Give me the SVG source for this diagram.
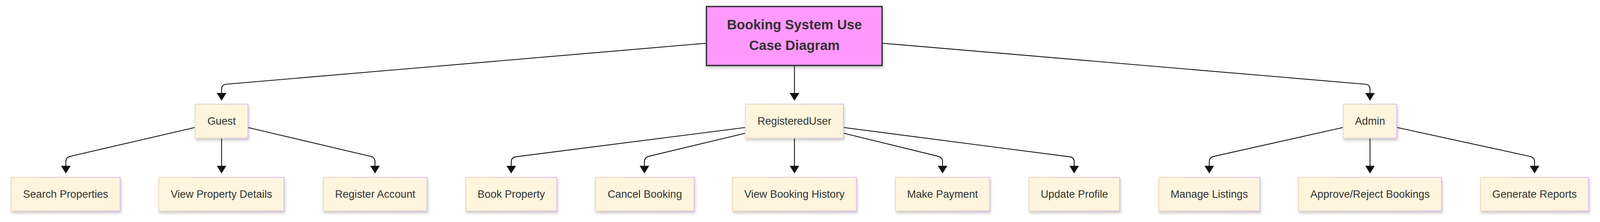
<svg xmlns="http://www.w3.org/2000/svg" width="4181" height="568" viewBox="0 0 4181 568" style="overflow:hidden">
<style>
.node rect.box{fill:#fff4dd;stroke:url(#bord);stroke-width:2;filter:url(#shadow)}
.node text{font-family:"Liberation Sans",Arial,sans-serif;font-size:27.8px;fill:#333;text-anchor:middle}
.title rect{fill:#ff99ff;stroke:#333;stroke-width:3.5;filter:url(#shadow)}
.title text{font-family:"Liberation Sans",Arial,sans-serif;font-size:35.5px;font-weight:bold;fill:#333;text-anchor:middle}
.edges path{fill:none;stroke:#111;stroke-width:2.2;marker-end:url(#arrow)}
</style>
<defs>
<linearGradient id="bord" x1="0" y1="0" x2="1" y2="0">
<stop offset="0" stop-color="#ecd8b4"/>
<stop offset="1" stop-color="#dcb6ee"/>
</linearGradient>
<filter id="shadow" x="-5%" y="-10%" width="115%" height="125%">
<feDropShadow dx="2" dy="5" stdDeviation="3.5" flood-color="#000" flood-opacity="0.2"/>
</filter>
<marker id="arrow" viewBox="0 0 20 25" refX="12" refY="12.5" markerWidth="20" markerHeight="25" markerUnits="userSpaceOnUse" orient="auto">
<path d="M0,0 L20,12.5 L0,25 z" fill="#111"/>
</marker>
</defs>
<rect width="4181" height="568" fill="#fff"/>
<g id="diagram" transform="scale(0.97967)">
<g class="edges" id="connectors">
<path d="M1844,113 L591,220 Q579,221 579,233 L579,255"/>
<path d="M2076,173 L2076,255"/>
<path d="M2307,113 L3568,220 Q3580,221 3580,233 L3580,255"/>
<path d="M509,333 L183.7,408.3 Q172,411 172,423 L172,445"/>
<path d="M579,362 L579,445"/>
<path d="M648,333 L968.3,408.3 Q980,411 980,423 L980,445"/>
<path d="M1947,333 L1347.9,409.5 Q1336,411 1336,423 L1336,445"/>
<path d="M1947,348 L1695.7,408.2 Q1684,411 1684,423 L1684,445"/>
<path d="M2076,362 L2076,445"/>
<path d="M2205,348 L2451.3,408.2 Q2463,411 2463,423 L2463,445"/>
<path d="M2205,333 L2795.1,409.5 Q2807,411 2807,423 L2807,445"/>
<path d="M3509,333 L3171.7,408.4 Q3160,411 3160,423 L3160,445"/>
<path d="M3580,362 L3580,445"/>
<path d="M3651,333 L3998.3,408.5 Q4010,411 4010,423 L4010,445"/>
</g>
<g class="title" id="node-title">
<rect x="1846" y="17" width="459" height="154"/>
<text x="2076" y="77">Booking System Use</text>
<text x="2076" y="131">Case Diagram</text>
</g>
<g class="node" id="node-guest"><rect class="box" x="510" y="272" width="138" height="89"/><text x="579" y="326">Guest</text></g>
<g class="node" id="node-registereduser"><rect class="box" x="1948" y="272" width="256" height="89"/><text x="2076" y="326">RegisteredUser</text></g>
<g class="node" id="node-admin"><rect class="box" x="3510" y="272" width="140" height="89"/><text x="3580" y="326">Admin</text></g>
<g class="node" id="node-search"><rect class="box" x="29" y="463" width="285" height="88"/><text x="171.5" y="516.5">Search Properties</text></g>
<g class="node" id="node-viewdetails"><rect class="box" x="415" y="463" width="327" height="88"/><text x="578.5" y="516.5">View Property Details</text></g>
<g class="node" id="node-register"><rect class="box" x="845" y="463" width="271" height="88"/><text x="980.5" y="516.5">Register Account</text></g>
<g class="node" id="node-book"><rect class="box" x="1217" y="463" width="238" height="88"/><text x="1336" y="516.5">Book Property</text></g>
<g class="node" id="node-cancel"><rect class="box" x="1556" y="463" width="258" height="88"/><text x="1685" y="516.5">Cancel Booking</text></g>
<g class="node" id="node-history"><rect class="box" x="1914" y="463" width="324" height="88"/><text x="2076" y="516.5">View Booking History</text></g>
<g class="node" id="node-payment"><rect class="box" x="2340" y="463" width="246" height="88"/><text x="2463" y="516.5">Make Payment</text></g>
<g class="node" id="node-profile"><rect class="box" x="2689" y="463" width="237" height="88"/><text x="2807.5" y="516.5">Update Profile</text></g>
<g class="node" id="node-listings"><rect class="box" x="3028" y="463" width="264" height="88"/><text x="3160" y="516.5">Manage Listings</text></g>
<g class="node" id="node-approve"><rect class="box" x="3393" y="463" width="374" height="88"/><text x="3580" y="516.5">Approve/Reject Bookings</text></g>
<g class="node" id="node-reports"><rect class="box" x="3869" y="463" width="282" height="88"/><text x="4010" y="516.5">Generate Reports</text></g>
</g>
</svg>
